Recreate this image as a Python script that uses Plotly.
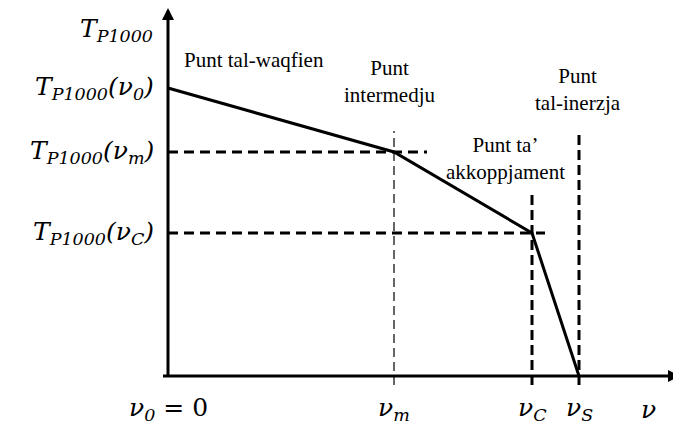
import plotly.graph_objects as go

# characteristic points (x in nu units, y in T_P1000 units)
points = ['v0', 'vm', 'vC', 'vS']
nu = [0, 226, 364, 411]
T = [288, 224, 143, 0]

y_labels = ['<i>T<sub>P1000</sub>(ν<sub>0</sub>)</i>', '<i>T<sub>P1000</sub>(ν<sub>m</sub>)</i>',
            '<i>T<sub>P1000</sub>(ν<sub>C</sub>)</i>']
x_labels = ['<i>ν<sub>0</sub></i> = 0', '<i>ν<sub>m</sub></i>', '<i>ν<sub>C</sub></i>',
            '<i>ν<sub>S</sub></i>']
names = ['Punt tal-waqfien', 'Punt<br>intermedju', "Punt ta’<br>akkoppjament", 'Punt<br>tal-inerzja']

math_font = dict(family='DejaVu Serif', size=25, color='black')
text_font = dict(family='Liberation Serif, Times New Roman, serif', size=21, color='black')

fig = go.Figure()

fig.add_trace(go.Scatter(x=nu, y=T, mode='lines', line=dict(color='black', width=3),
                         hoverinfo='skip', showlegend=False))

# dashed guides
fig.add_shape(type='line', x0=0, x1=259, y0=T[1], y1=T[1],
              line=dict(color='black', width=3, dash='10px,6px'))
fig.add_shape(type='line', x0=0, x1=377, y0=T[2], y1=T[2],
              line=dict(color='black', width=3, dash='10px,6px'))
fig.add_shape(type='line', x0=nu[1], x1=nu[1], y0=-9, y1=245,
              line=dict(color='black', width=1.2, dash='9px,5px'))
fig.add_shape(type='line', x0=nu[2], x1=nu[2], y0=-9, y1=183,
              line=dict(color='black', width=3, dash='10px,5px'))
fig.add_shape(type='line', x0=nu[3], x1=nu[3], y0=-9, y1=246,
              line=dict(color='black', width=3, dash='10px,5px'))

# axes with arrows
fig.add_annotation(x=0, y=368, ax=0, ay=-11, xref='x', yref='y', axref='x', ayref='y',
                   showarrow=True, arrowhead=2, arrowsize=0.8, arrowwidth=3,
                   arrowcolor='black', text=' ')
fig.add_annotation(x=512, y=0, ax=-8, ay=0, xref='x', yref='y', axref='x', ayref='y',
                   showarrow=True, arrowhead=2, arrowsize=0.8, arrowwidth=3,
                   arrowcolor='black', text=' ')

# y labels
fig.add_annotation(x=-13, y=346, text='<i>T<sub>P1000</sub></i>', showarrow=False,
                   xanchor='right', font=math_font)
for lab, yv in zip(y_labels, T[:3]):
    fig.add_annotation(x=-12, y=yv, text=lab, showarrow=False, xanchor='right', font=math_font)

# x labels
for lab, xv in zip(x_labels, nu):
    fig.add_annotation(x=xv, y=-33, text=lab, showarrow=False, font=math_font)
fig.add_annotation(x=480, y=-33, text='<i>ν</i>', showarrow=False, font=math_font)

# point names
name_pos = [(86, 316), (221, 295), (337, 218), (410, 287)]
for lab, (xv, yv) in zip(names, name_pos):
    fig.add_annotation(x=xv, y=yv, text=lab, showarrow=False, font=text_font)

# page body adds an 8px offset, so the axes span the whole figure
fig.update_xaxes(range=[-160, 521], visible=False)
fig.update_yaxes(range=[-57, 368], visible=False)
fig.update_layout(width=681, height=425, margin=dict(l=0, r=0, t=0, b=0),
                  plot_bgcolor='white', paper_bgcolor='white')

fig.write_html("out.html")
